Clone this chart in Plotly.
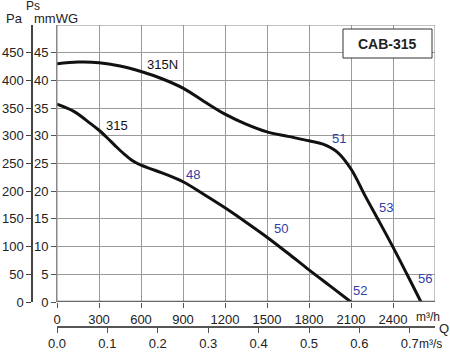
import plotly.graph_objects as go

# ---- data ----
q_315n = [0, 150, 300, 450, 600, 750, 900, 1050, 1200, 1350, 1500, 1650, 1800, 1900, 2000, 2100, 2200, 2300, 2400, 2500, 2600]
p_315n = [430, 433, 432, 426, 416, 403, 386, 362, 339, 321, 307, 299, 291, 285, 271, 240, 192, 146, 99, 50, 0]
q_315 = [0, 120, 240, 300, 360, 420, 480, 540, 600, 675, 750, 900, 1050, 1200, 1350, 1500, 1650, 1800, 1950, 2100]
p_315 = [357, 344, 322, 310, 296, 281, 267, 255, 247, 240, 233, 217, 194, 170, 144, 117, 88, 58, 29, 0]

q_ticks = [0, 300, 600, 900, 1200, 1500, 1800, 2100, 2400]
pa_ticks = [0, 50, 100, 150, 200, 250, 300, 350, 400, 450]
mm_labels = ["0", "5", "10", "15", "20", "25", "30", "35", "40", "45"]
qs_ticks = [0.0, 0.1, 0.2, 0.3, 0.4, 0.5, 0.6, 0.7]

curve_labels = [("315N", 757, 428, "#111111"), ("315", 429, 318, "#111111"),
                ("48", 971, 231, "#3040a8"), ("50", 1600, 132, "#3040a8"),
                ("51", 2014, 296, "#3040a8"), ("53", 2350, 170, "#3040a8"),
                ("52", 2164, 20, "#3040a8"), ("56", 2629, 42, "#3040a8")]

W, H = 450, 353
FONT = "Liberation Sans, Arial, sans-serif"

def px(x):
    return x / W

def py(y):
    return 1 - y / H

fig = go.Figure()
fig.add_trace(go.Scatter(x=q_315n, y=p_315n, mode="lines", line=dict(color="#111", width=3, shape="spline", smoothing=1.0),
                         hoverinfo="skip", showlegend=False))
fig.add_trace(go.Scatter(x=q_315, y=p_315, mode="lines", line=dict(color="#111", width=3, shape="spline", smoothing=1.0),
                         hoverinfo="skip", showlegend=False))
# dummy trace for the secondary axes
fig.add_trace(go.Scatter(x=[0], y=[0], xaxis="x2", yaxis="y2", mode="markers", marker=dict(opacity=0),
                         hoverinfo="skip", showlegend=False))

xdom = [px(57), px(435)]
ydom = [py(302), py(25)]
tickfont = dict(family=FONT, size=13, color="#222")

fig.update_layout(
    width=W, height=H, margin=dict(l=0, r=0, t=0, b=0),
    paper_bgcolor="white", plot_bgcolor="white",
    font=dict(family=FONT, size=13, color="#222"),
    xaxis=dict(domain=xdom, range=[0, 2700], tickvals=q_ticks, ticks="outside", ticklen=5, tickcolor="#555",
               showgrid=True, gridcolor="#9a9a9a", gridwidth=1, zeroline=False, showline=False,
               tickfont=tickfont, fixedrange=True, automargin=False),
    yaxis=dict(domain=ydom, range=[0, 500], tickvals=pa_ticks, ticktext=mm_labels, ticks="outside", ticklen=5,
               tickcolor="#555", showgrid=True, gridcolor="#9a9a9a", gridwidth=1, zeroline=False,
               showline=True, linecolor="#888", linewidth=1, tickfont=tickfont, fixedrange=True, automargin=False),
    yaxis2=dict(overlaying="y", anchor="free", position=px(32), side="left", range=[0, 500],
                tickvals=pa_ticks, ticks="outside", ticklen=5, tickcolor="#444", showgrid=False,
                zeroline=False, showline=True, linecolor="#444", linewidth=1.5, tickfont=tickfont,
                fixedrange=True, automargin=False),
    xaxis2=dict(overlaying="x", anchor="free", position=py(327), side="bottom", range=[0, 2700 / 3600],
                tickvals=qs_ticks, ticktext=[f"{v:.1f}" for v in qs_ticks], ticks="outside", ticklen=5,
                tickcolor="#555", showgrid=False, zeroline=False, showline=True, linecolor="#555",
                linewidth=1.5, tickfont=tickfont, fixedrange=True, automargin=False),
)

shapes = [
    dict(type="rect", xref="x", yref="y", x0=0, x1=2700, y0=0, y1=500, line=dict(color="#888", width=1)),
    dict(type="line", xref="x", yref="y", x0=0, x1=2700, y0=0, y1=0, line=dict(color="#666", width=2.5)),
    dict(type="rect", xref="paper", yref="paper", x0=px(343), x1=px(432), y0=py(58), y1=py(29),
         line=dict(color="#333", width=1), fillcolor="white"),
]
fig.update_layout(shapes=shapes)

ann = []
for t, q, p, c in curve_labels:
    ann.append(dict(text=t, x=q, y=p, xref="x", yref="y", showarrow=False,
                    font=dict(family=FONT, size=13, color=c), xanchor="center", yanchor="middle"))

def pann(text, x, y, size=13, **kw):
    d = dict(text=text, x=px(x), y=py(y), xref="paper", yref="paper", showarrow=False,
             font=dict(family=FONT, size=size, color="#222"), xanchor="center", yanchor="middle")
    d.update(kw)
    ann.append(d)

pann("Pa", 14, 18)
pann("Ps", 33, 6, size=12)
pann("mmWG", 56, 18)
pann("m³/h", 428, 317, size=12)
pann("Q", 444, 328)
pann("m³/s", 430, 344, size=12)
pann("<b>CAB-315</b>", 387.5, 44, size=14)
fig.update_layout(annotations=ann)

fig.write_html("out.html")
